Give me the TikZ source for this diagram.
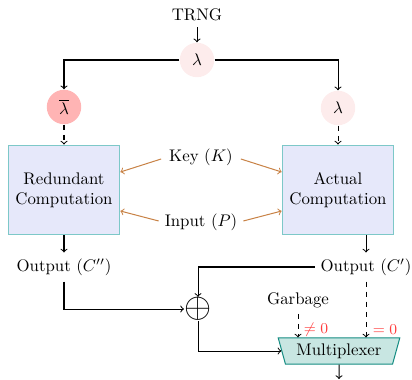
\documentclass[tikz,border=0pt]{standalone}
\usetikzlibrary{shapes.geometric,calc}
\definecolor{boxfill}{RGB}{230,232,250}
\definecolor{boxdraw}{RGB}{125,200,200}
\definecolor{muxfill}{RGB}{200,230,226}
\definecolor{muxdraw}{RGB}{20,140,130}
\definecolor{arr}{RGB}{200,130,70}
\definecolor{lamfill}{RGB}{253,236,236}
\definecolor{lambarfill}{RGB}{255,180,180}
\definecolor{redtext}{RGB}{255,60,60}
\begin{document}
\begin{tikzpicture}[x=0.595pt,y=-0.595pt,
  line width=0.6pt,
  lam/.style={circle,fill=lamfill,minimum size=20.5pt,inner sep=0pt},
  lambar/.style={circle,fill=lambarfill,minimum size=20.5pt,inner sep=0pt},
  comp/.style={rectangle,draw=boxdraw,fill=boxfill,minimum width=66.5pt,minimum height=53.5pt,align=center,inner sep=2pt},
  mux/.style={trapezium,draw=muxdraw,fill=muxfill,trapezium left angle=72,trapezium right angle=72,shape border rotate=180,trapezium stretches=true,minimum width=72.6pt,minimum height=15.5pt,inner sep=1pt},
  orarr/.style={->,draw=arr},
  cond/.style={text=redtext,font=\small,inner sep=1pt}]
\useasboundingbox (0,0) rectangle (412,379);
\node (trng) at (197,15) {TRNG};
\node[lam] (lam) at (197,60) {$\lambda$};
\node[lambar] (lamb) at (64,107) {$\overline{\lambda}$};
\node[lam] (lamr) at (338,108) {$\lambda$};
\node[comp] (red) at (64,190) {Redundant\\Computation};
\node[comp] (act) at (338,190) {Actual\\Computation};
\node (key) at (201,157) {Key $(K)$};
\node (inp) at (201,222) {Input $(P)$};
\node (outl) at (64,267) {Output $(C'')$};
\node (outr) at (366,267) {Output $(C')$};
\node[inner sep=0pt] (xor) at (198,309) {\huge$\oplus$};
\node (garb) at (298,300) {Garbage};
\node[mux] (mux) at (339,351) {Multiplexer};
\coordinate (end) at (339,379);
\node[cond] (ne) at (316,330) {$\neq 0$};
\node[cond] (eq) at (385,330) {$= 0$};

\draw[->] (trng) -- (lam);
\draw[->] (lam) -| (lamb);
\draw[->] (lam) -| (lamr);
\draw[->,dashed] (lamb) -- (red);
\draw[->,dashed] (lamr) -- (act);
\draw[orarr] ($(key.west)+(-2,2)$) -- ($(red.east)+(0,-18)$);
\draw[orarr] ($(key.east)+(2,2)$) -- ($(act.west)+(0,-18)$);
\draw[orarr] ($(inp.west)+(0,-1)$) -- ($(red.east)+(0,21)$);
\draw[orarr] ($(inp.east)+(0,-1)$) -- ($(act.west)+(0,21)$);
\draw[->] (red) -- (outl);
\draw[->] (act.south -| outr) -- (outr);
\draw[->] (outl) |- (xor);
\draw[->] (outr.west) -| (xor);
\draw[->] (xor) |- (mux.west);
\draw[->,dashed] (garb.south) -- (garb.south |- mux.north);
\draw[->,dashed] (outr.south) -- (outr.south |- mux.north);
\draw[->] (mux) -- (end);
\end{tikzpicture}
\end{document}
